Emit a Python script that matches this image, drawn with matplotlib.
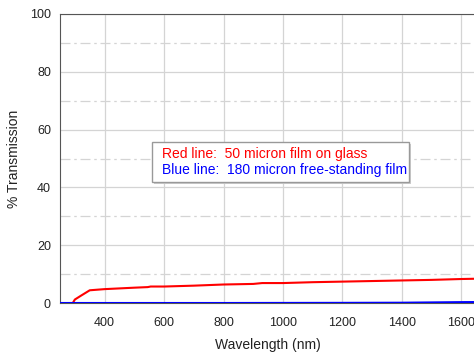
import matplotlib.pyplot as plt
from matplotlib.ticker import MultipleLocator
from matplotlib.patches import Rectangle

plt.rcParams['font.family'] = ['Liberation Sans', 'DejaVu Sans']

# wavelength (nm) and % transmission
red_wl = [293, 300, 320, 350, 400, 500, 545, 555, 600, 700, 800, 900, 930, 1000, 1100, 1200, 1300, 1400, 1500, 1600, 1700]
red_t = [0.0, 1.2, 2.5, 4.4, 4.8, 5.3, 5.5, 5.7, 5.7, 6.0, 6.4, 6.6, 6.9, 6.9, 7.2, 7.4, 7.6, 7.8, 8.0, 8.3, 8.5]
blue_wl = [250, 400, 800, 1200, 1400, 1500, 1600, 1700]
blue_t = [0.0, 0.0, 0.0, 0.05, 0.1, 0.2, 0.3, 0.35]

W, H = 474, 354
fig = plt.figure(figsize=(4.74, 3.54), dpi=100)
ax = fig.add_axes([60 / W, 1 - 303 / H, 669 / W, 289 / H])

ax.plot(red_wl, red_t, color='#ff0000', lw=1.5, zorder=3)
ax.plot(blue_wl, blue_t, color='#0000ff', lw=1.5, zorder=3)

ax.set_xlim(250, 2500)
ax.set_ylim(0, 100)
ax.xaxis.set_major_locator(MultipleLocator(200))
ax.yaxis.set_major_locator(MultipleLocator(20))
ax.yaxis.set_minor_locator(MultipleLocator(10))
ax.grid(True, which='major', color='#d4d4d4', lw=0.9)
ax.grid(True, which='minor', axis='y', color='#d4d4d4', lw=0.9, ls=(0, (8, 3, 2, 3)))
ax.set_axisbelow(True)
ax.tick_params(which='both', length=0, labelsize=9, colors='#222222')
ax.tick_params(axis='y', pad=6.5)
ax.tick_params(axis='x', pad=10)
for s in ['top', 'left', 'right', 'bottom']:
    ax.spines[s].set_color('#555555')

fig.text(268 / W, 1 - 345 / H, 'Wavelength (nm)', fontsize=10, ha='center', va='center', color='#222222')
fig.text(14 / W, 1 - 159 / H, '% Transmission', fontsize=10, rotation=90, ha='center', va='center', color='#222222')

# note box with a faint shadow
shadow = Rectangle((154 / W, 1 - 184 / H), 257 / W, 40 / H, transform=fig.transFigure,
                   facecolor='#cccccc', edgecolor='none', zorder=1.9)
box = Rectangle((152 / W, 1 - 182 / H), 257 / W, 40 / H, transform=fig.transFigure,
                facecolor='white', edgecolor='#999999', lw=1, zorder=2)
fig.patches.extend([shadow, box])
fig.text(162 / W, 1 - 154 / H, 'Red line:  50 micron film on glass', fontsize=10,
         color='#ff0000', va='center', zorder=4)
fig.text(162 / W, 1 - 170 / H, 'Blue line:  180 micron free-standing film', fontsize=10,
         color='#0000ff', va='center', zorder=4)

fig.savefig('out.png', dpi=100)
